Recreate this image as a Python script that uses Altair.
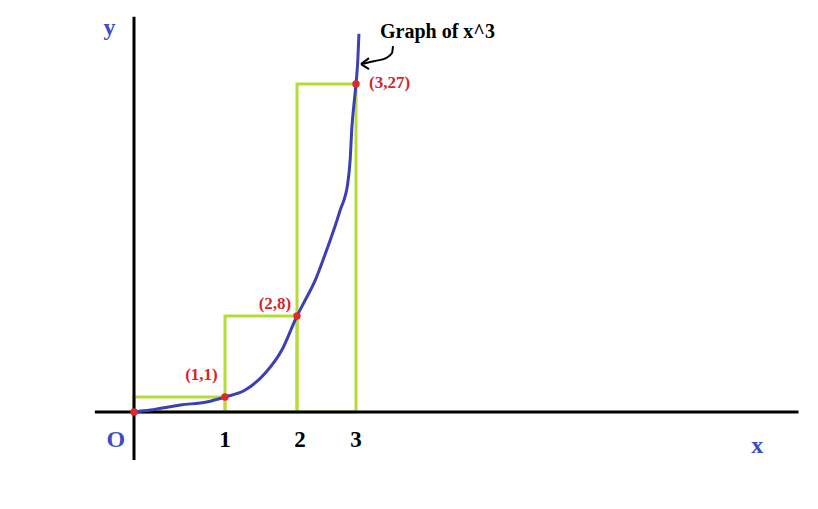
import altair as alt
import pandas as pd

# Curve y = x^3, traced through (0,0), (1,1), (2,8), (3,27)
curve_x = [0, 0.18, 0.51, 0.80, 1.0, 1.28, 1.56, 1.79, 2.0, 2.14, 2.31, 2.44, 2.73, 2.86, 2.90, 2.93, 2.98, 3.0, 3.03, 3.05]
curve_y = [0, 0.13, 0.47, 0.67, 1.0, 1.60, 3.07, 5.06, 8.0, 9.31, 10.94, 12.57, 16.64, 18.85, 20.72, 23.41, 26.02, 27.0, 28.88, 31.1]

# Marked points on the curve
pt_x = [0, 1, 2, 3]
pt_y = [0, 1, 8, 27]

# Upper rectangles over [0,1], [1,2], [2,3]
rect_x0 = [0, 1, 2]
rect_x1 = [1, 2, 3]
rect_h = [1, 8, 27]

# Point labels: two left of their point, one to the right
lab_left_text = ["(1,1)", "(2,8)"]
lab_left_x = [0.92, 1.92]
lab_left_y = [2.47, 8.57]
lab_right_text = ["(3,27)"]
lab_right_x = [3.22]
lab_right_y = [26.67]

# Tick labels on the x axis
tick_text = ["1", "2", "3"]
tick_x = [1, 2.05, 3]

# Axis extents
xaxis_x = [-0.43, 10.5]
yaxis_y = [-3.2, 32.5]

# Annotation arrow (path plus two head strokes)
arrow_seg = ["a", "a", "a", "a", "a", "h", "h", "k", "k"]
arrow_ord = [0, 1, 2, 3, 4, 0, 1, 0, 1]
arrow_x = [3.627, 3.610, 3.508, 3.322, 3.085, 3.085, 3.22, 3.085, 3.22]
arrow_y = [30.10, 29.53, 29.12, 28.88, 28.63, 28.63, 29.12, 28.63, 28.22]

xs = alt.Scale(domain=[0, 1, 2, 3], range=[134, 225, 297, 356], nice=False, zero=False)
ys = alt.Scale(domain=[0, 1, 8, 27], range=[412, 397, 316, 84], nice=False, zero=False)

SERIF = "Liberation Serif"
GREEN = "#b6dc3a"
BLUE = "#3b40b2"
LBLUE = "#3e4cc2"
RED = "#e3262a"
DRED = "#d3272b"


def X(f):
    return alt.X(f, type="quantitative", scale=xs, axis=None)


def Y(f):
    return alt.Y(f, type="quantitative", scale=ys, axis=None)


rects = alt.Chart(pd.DataFrame({"x0": rect_x0, "x1": rect_x1, "h": rect_h, "b": [0, 0, 0]})).mark_rect(
    fill=None, stroke=GREEN, strokeWidth=3
).encode(x=X("x0"), x2="x1", y=Y("h"), y2="b")

xaxis = alt.Chart(pd.DataFrame({"x": xaxis_x, "y": [0, 0]})).mark_line(
    color="black", strokeWidth=3
).encode(x=X("x"), y=Y("y"))

yaxis = alt.Chart(pd.DataFrame({"x": [0, 0], "y": yaxis_y})).mark_line(
    color="black", strokeWidth=3
).encode(x=X("x"), y=Y("y"), order="y:Q")

curve = alt.Chart(pd.DataFrame({"x": curve_x, "y": curve_y, "i": list(range(len(curve_x)))})).mark_line(
    color=BLUE, strokeWidth=3, interpolate="monotone"
).encode(x=X("x"), y=Y("y"), order="i:Q")

dots = alt.Chart(pd.DataFrame({"x": pt_x, "y": pt_y})).mark_circle(
    color=RED, size=55, opacity=1
).encode(x=X("x"), y=Y("y"))

labels_left = alt.Chart(pd.DataFrame({"t": lab_left_text, "x": lab_left_x, "y": lab_left_y})).mark_text(
    font=SERIF, fontWeight="bold", fontSize=17, color=DRED, baseline="alphabetic", align="right"
).encode(x=X("x"), y=Y("y"), text="t:N")

labels_right = alt.Chart(pd.DataFrame({"t": lab_right_text, "x": lab_right_x, "y": lab_right_y})).mark_text(
    font=SERIF, fontWeight="bold", fontSize=17, color=DRED, baseline="alphabetic", align="left"
).encode(x=X("x"), y=Y("y"), text="t:N")

ticks = alt.Chart(pd.DataFrame({"t": tick_text, "x": tick_x, "y": [-2.33] * 3})).mark_text(
    font=SERIF, fontWeight="bold", fontSize=23, color="black", baseline="alphabetic", align="center"
).encode(x=X("x"), y=Y("y"), text="t:N")

axis_names = alt.Chart(pd.DataFrame({"t": ["O", "x", "y"], "x": [-0.2, 9.8, -0.27], "y": [-2.33, -2.73, 31.0]})).mark_text(
    font=SERIF, fontWeight="bold", fontSize=24, color=LBLUE, baseline="alphabetic", align="center"
).encode(x=X("x"), y=Y("y"), text="t:N")

title_note = alt.Chart(pd.DataFrame({"t": ["Graph of x^3"], "x": [3.407], "y": [30.73]})).mark_text(
    font=SERIF, fontWeight="bold", fontSize=20, color="black", baseline="alphabetic", align="left"
).encode(x=X("x"), y=Y("y"), text="t:N")

arrow = alt.Chart(pd.DataFrame({"s": arrow_seg, "o": arrow_ord, "x": arrow_x, "y": arrow_y})).mark_line(
    color="black", strokeWidth=2, interpolate="monotone"
).encode(x=X("x"), y=Y("y"), detail="s:N", order="o:Q")

chart = alt.layer(
    rects, xaxis, yaxis, curve, dots, labels_left, labels_right, ticks, axis_names, title_note, arrow
).properties(
    width=818, height=509, padding=0, autosize=alt.AutoSizeParams(type="none"), background="white"
).configure_view(stroke=None)

chart.save("out.html", embed_options={"renderer": "svg", "actions": False})
